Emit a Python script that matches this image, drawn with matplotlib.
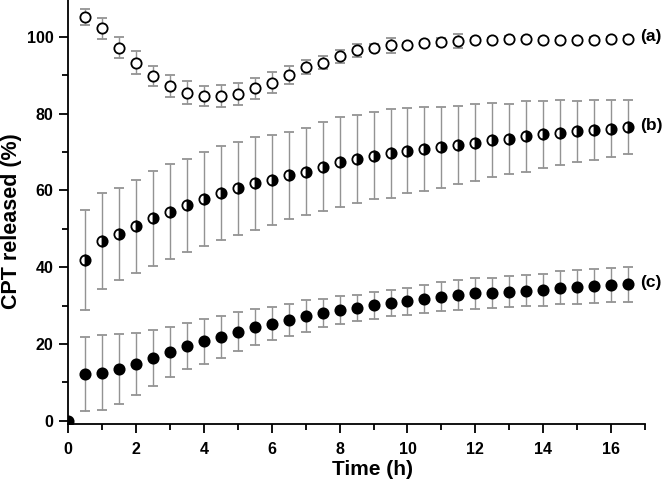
import matplotlib.pyplot as plt
from matplotlib.ticker import MultipleLocator

plt.rcParams['font.family'] = ['Liberation Sans', 'DejaVu Sans']
plt.rcParams['font.weight'] = 'bold'

# time points (h)
time = [0.5 * i for i in range(1, 34)]
time_c = [0.0] + time

# (a)
a_vals = [105.2, 102.2, 97.2, 93.2, 89.8, 87.2, 85.5, 84.6, 84.5, 85.2, 86.6,
          88.1, 90.0, 92.1, 93.3, 94.9, 96.5, 97.2, 97.8, 98.0, 98.5, 98.6,
          99.0, 99.2, 99.3, 99.5, 99.4, 99.3, 99.2, 99.1, 99.3, 99.4, 99.5]
a_err = [2.0, 2.7, 2.7, 3.0, 2.7, 2.8, 3.0, 2.7, 2.9, 2.9, 2.7,
         2.7, 2.4, 1.8, 1.8, 1.7, 1.7, 1.0, 2.0, 0.5, 0.5, 1.0,
         1.8, 0.5, 0.5, 0.6, 0.5, 0.5, 0.6, 0.5, 0.6, 0.6, 0.6]

# (b)
b_vals = [41.9, 46.7, 48.7, 50.7, 52.7, 54.5, 56.1, 57.7, 59.4, 60.5, 61.8,
          62.7, 63.9, 64.9, 66.2, 67.4, 68.2, 69.0, 69.7, 70.3, 70.8, 71.2,
          71.8, 72.4, 73.2, 73.4, 74.1, 74.6, 75.0, 75.4, 75.7, 76.1, 76.5]
b_err = [13.0, 12.5, 12.0, 12.1, 12.3, 12.5, 12.2, 12.3, 12.2, 12.0, 12.0,
         11.7, 11.4, 11.4, 11.5, 11.7, 11.4, 11.3, 11.6, 11.1, 11.0, 10.5,
         10.2, 10.0, 9.6, 9.2, 9.2, 8.8, 8.5, 8.0, 7.8, 7.5, 7.0]

# (c)
c_vals = [0.0, 12.1, 12.5, 13.4, 14.8, 16.3, 17.9, 19.4, 20.7, 21.8, 23.2,
          24.4, 25.3, 26.2, 27.3, 28.0, 28.8, 29.4, 30.1, 30.6, 31.1, 31.7,
          32.3, 32.7, 33.2, 33.3, 33.6, 33.9, 34.1, 34.6, 34.8, 35.0, 35.3, 35.5]
c_err = [0.0, 9.7, 9.7, 9.1, 8.1, 7.2, 6.5, 6.0, 5.8, 5.4, 5.0,
         4.7, 4.3, 4.1, 4.1, 3.6, 3.6, 3.3, 3.5, 3.4, 3.6, 3.7,
         3.8, 3.9, 4.0, 4.0, 4.1, 4.1, 4.2, 4.3, 4.4, 4.4, 4.5, 4.5]

labels = ['(a)', '(b)', '(c)']

fig = plt.figure(figsize=(6.63, 4.82), dpi=100)
ax = fig.add_axes([0.1026, 0.12, 0.8704, 0.88])

err_kw = dict(ecolor='#939393', elinewidth=1.0, capsize=3.3, capthick=1.0,
              linestyle='none', markersize=7.4, markeredgewidth=1.3,
              markeredgecolor='black')

ax.errorbar(time, a_vals, yerr=a_err, marker='o', markerfacecolor='white', **err_kw)
ax.errorbar(time, b_vals, yerr=b_err, marker='o', fillstyle='right',
            markerfacecolor='black', markerfacecoloralt='white', **err_kw)
ax.errorbar(time_c, c_vals, yerr=c_err, marker='o', markerfacecolor='black', **err_kw)

# series labels at the right end
for lab, yv in zip(labels, [a_vals[-1], b_vals[-1], c_vals[-1]]):
    ax.text(16.85, yv + 0.5, lab, fontsize=12.5, fontweight='bold', va='center', ha='left')

ax.set_xlim(0, 17)
ax.set_ylim(-0.9, 109.6)
ax.xaxis.set_major_locator(MultipleLocator(2))
ax.xaxis.set_minor_locator(MultipleLocator(1))
ax.yaxis.set_major_locator(MultipleLocator(20))
ax.yaxis.set_minor_locator(MultipleLocator(10))

ax.spines['top'].set_visible(False)
ax.spines['right'].set_visible(False)
for s in ['left', 'bottom']:
    ax.spines[s].set_linewidth(1.3)

ax.tick_params(which='major', direction='out', length=6.5, width=1.3, labelsize=11.5)
ax.tick_params(which='minor', direction='out', length=4, width=1.3)
ax.tick_params(axis='x', which='major', pad=6)
ax.tick_params(axis='y', which='major', pad=4)

ax.set_xlabel('Time (h)', fontsize=15, fontweight='bold', va='center')
ax.set_ylabel('CPT released (%)', fontsize=15.5, fontweight='bold', va='center')
ax.xaxis.set_label_coords(0.528, -0.106)
ax.yaxis.set_label_coords(-0.0975, 0.4776)

fig.savefig('out.png', dpi=100)
